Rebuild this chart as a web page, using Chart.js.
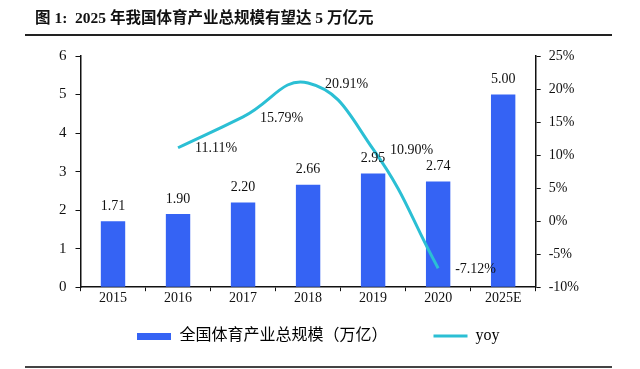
<!DOCTYPE html>
<html>
<head>
<meta charset="utf-8">
<script src="https://cdn.jsdelivr.net/npm/chart.js@4/dist/chart.umd.min.js"></script>
<style>
  body { margin: 0; background: #fff; }
  #wrap { width: 640px; height: 369px; }
</style>
</head>
<body>
<div id="wrap"><canvas class="chart"></canvas></div>
<script>
const years = ["2015", "2016", "2017", "2018", "2019", "2020", "2025E"];
const scale = [1.71, 1.90, 2.20, 2.66, 2.95, 2.74, 5.00];
const yoy = [null, 11.11, 15.79, 20.91, 10.90, -7.12, null];
const leftTicks = [0, 1, 2, 3, 4, 5, 6];
const rightTicks = [-10, -5, 0, 5, 10, 15, 20, 25];

const serif = "'Liberation Serif', 'Times New Roman', serif";
const barColor = "#3563f4";
const lineColor = "#2bbfd4";

// small blue swatch for the bar legend item
const swatch = document.createElement("canvas");
swatch.width = 34;
swatch.height = 7;
const sctx = swatch.getContext("2d");
sctx.fillStyle = barColor;
sctx.fillRect(0, 0, 34, 7);

const frame = {
  id: "frame",
  afterDraw(chart) {
    const c = chart.ctx;
    c.save();
    c.fillStyle = "#111";
    c.textBaseline = "middle";
    c.font = "bold 15.5px 'Liberation Serif', 'Noto Sans CJK SC'";
    c.fillText("图 1:  2025 年我国体育产业总规模有望达 5 万亿元", 35, 19);
    c.fillStyle = "#222";
    c.fillRect(25, 34, 587, 2);
    c.fillStyle = "#444";
    c.fillRect(25, 366, 587, 2);

    // value labels
    c.font = "14px " + serif;
    c.fillStyle = "#111";
    const bars = chart.getDatasetMeta(0).data;
    c.textAlign = "center";
    c.textBaseline = "bottom";
    bars.forEach((b, i) => {
      c.fillText(scale[i].toFixed(2), b.x, b.y - 8);
    });
    const pts = chart.getDatasetMeta(1).data;
    c.textAlign = "left";
    c.textBaseline = "middle";
    pts.forEach((p, i) => {
      if (yoy[i] === null) return;
      c.fillText(yoy[i].toFixed(2) + "%", p.x + 17, p.y + 1);
    });
    c.restore();
  }
};

new Chart(document.querySelector(".chart"), {
  data: {
    labels: years,
    datasets: [
      {
        type: "bar",
        label: "全国体育产业总规模（万亿）",
        data: scale,
        backgroundColor: barColor,
        barPercentage: 0.75,
        categoryPercentage: 0.5,
        yAxisID: "y",
        order: 2,
      },
      {
        type: "line",
        label: "yoy",
        data: yoy,
        borderColor: lineColor,
        borderWidth: 3,
        pointRadius: 0,
        tension: 0.45,
        yAxisID: "y1",
        order: 1,
      },
    ],
  },
  options: {
    responsive: true,
    maintainAspectRatio: false,
    animation: false,
    layout: { padding: { top: 56, left: 50, right: 53, bottom: 15 } },
    scales: {
      x: {
        grid: { drawOnChartArea: false, tickLength: 4, color: "#111", offset: true },
        border: { color: "#111", width: 1.5 },
        ticks: { color: "#111", font: { family: serif, size: 14 }, padding: -1 },
      },
      y: {
        position: "left",
        min: 0,
        max: 6,
        afterBuildTicks: (ax) => { ax.ticks = leftTicks.map(v => ({ value: v })); },
        grid: { drawOnChartArea: false, tickLength: 5, color: "#111" },
        border: { color: "#111", width: 1.5 },
        ticks: { color: "#111", font: { family: serif, size: 15 }, padding: 9 },
      },
      y1: {
        position: "right",
        min: -10,
        max: 25,
        afterBuildTicks: (ax) => { ax.ticks = rightTicks.map(v => ({ value: v })); },
        grid: { drawOnChartArea: false, tickLength: 5, color: "#111" },
        border: { color: "#111", width: 1.5 },
        ticks: { color: "#111", font: { family: serif, size: 14 }, padding: 8, callback: (v) => v + "%" },
      },
    },
    plugins: {
      legend: {
        position: "bottom",
        labels: {
          usePointStyle: true,
          pointStyleWidth: 34,
          boxHeight: 7,
          padding: 22,
          color: "#111",
          font: { family: "'Liberation Serif', 'Noto Sans CJK SC'", size: 16 },
          generateLabels: (chart) => [
            { text: chart.data.datasets[0].label + "\u3000\u3000", pointStyle: swatch, fillStyle: barColor, strokeStyle: barColor, lineWidth: 0, datasetIndex: 0 },
            { text: chart.data.datasets[1].label, pointStyle: "line", fillStyle: lineColor, strokeStyle: lineColor, lineWidth: 3, datasetIndex: 1 },
          ],
        },
      },
      tooltip: { enabled: false },
    },
  },
  plugins: [frame],
});
</script>
</body>
</html>
